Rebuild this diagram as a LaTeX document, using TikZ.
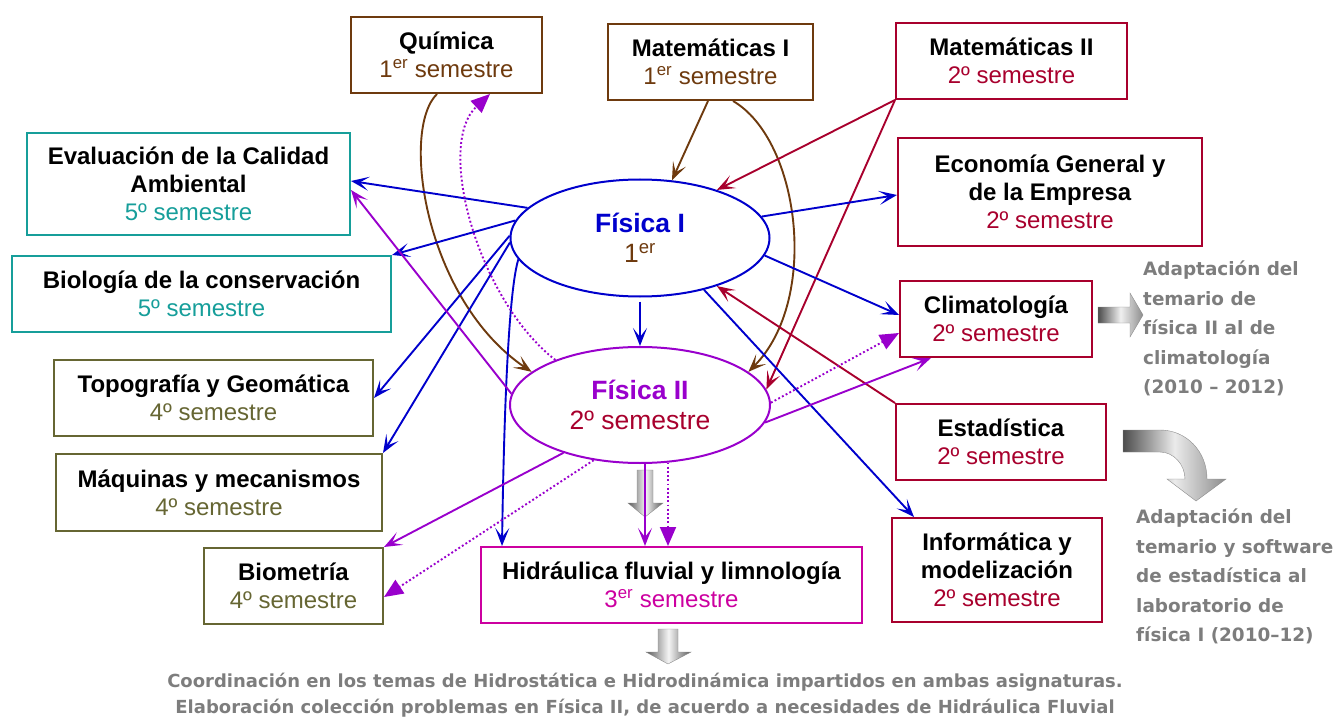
\documentclass[tikz,border=0pt]{standalone}
\usepackage{fontspec}
\setmainfont{Liberation Sans}
\newfontfamily\grayfont{DejaVu Sans}
\usetikzlibrary{arrows.meta,calc,shapes.geometric}
\definecolor{cbrown}{RGB}{110,58,14}
\definecolor{ccrim}{RGB}{168,0,45}
\definecolor{cblue}{RGB}{0,0,204}
\definecolor{cpurp}{RGB}{153,0,204}
\definecolor{cteal}{RGB}{22,158,154}
\definecolor{colive}{RGB}{102,102,51}
\definecolor{cmag}{RGB}{204,0,160}
\definecolor{cgray}{RGB}{125,125,125}
\begin{document}
\begin{tikzpicture}[x=1pt,y=-1pt,
  box/.style={draw, line width=2pt, inner sep=0pt, align=center, font=\fontsize{24}{28}\selectfont},
  ell/.style={ellipse, draw, line width=2pt, inner sep=0pt, align=center, font=\fontsize{26.5}{30}\selectfont},
  conn/.style={line width=1.9pt, -{Stealth[length=18pt,width=14pt,inset=9pt]}},
  dotc/.style={line width=1.9pt, dash pattern=on 1.9pt off 2.3pt, -{Triangle[length=19pt,width=16pt]}},
  gtext/.style={inner sep=0pt, text=cgray, align=left, font=\grayfont\bfseries\fontsize{18.4}{29.5}\selectfont},
  blockarrow/.style={draw=black!45, line width=0.4pt}
]
\useasboundingbox (0,0) rectangle (1336,722);

% boxes
\node[box, draw=cbrown, minimum width=191pt, minimum height=76pt] (qui) at (446.5,55) {\textbf{Química}\\\textcolor{cbrown}{1\textsuperscript{er} semestre}};
\node[box, draw=cbrown, minimum width=205pt, minimum height=76pt] (m1) at (710.5,62) {\textbf{Matemáticas I}\\\textcolor{cbrown}{1\textsuperscript{er} semestre}};
\node[box, draw=ccrim, minimum width=231pt, minimum height=76pt] (m2) at (1011.5,61) {\textbf{Matemáticas II}\\\textcolor{ccrim}{2º semestre}};
\node[box, draw=ccrim, minimum width=304pt, minimum height=108pt] (eco) at (1050,192) {\textbf{Economía General y}\\\textbf{de la Empresa}\\\textcolor{ccrim}{2º semestre}};
\node[box, draw=cteal, minimum width=323pt, minimum height=102pt] (evl) at (188.5,184) {\textbf{Evaluación de la Calidad}\\\textbf{Ambiental}\\\textcolor{cteal}{5º semestre}};
\node[box, draw=cteal, minimum width=379pt, minimum height=76pt] (bio) at (201.5,294) {\textbf{Biología de la conservación}\\\textcolor{cteal}{5º semestre}};
\node[box, draw=colive, minimum width=319pt, minimum height=76pt] (top) at (213.5,398) {\textbf{Topografía y Geomática}\\\textcolor{colive}{4º semestre}};
\node[box, draw=colive, minimum width=326pt, minimum height=77pt] (maq) at (219,492.5) {\textbf{Máquinas y mecanismos}\\\textcolor{colive}{4º semestre}};
\node[box, draw=colive, minimum width=179pt, minimum height=76pt] (bm) at (293.5,586) {\textbf{Biometría}\\\textcolor{colive}{4º semestre}};
\node[box, draw=cmag, minimum width=381pt, minimum height=76pt] (hid) at (671.5,585) {\textbf{Hidráulica fluvial y limnología}\\\textcolor{cmag}{3\textsuperscript{er} semestre}};
\node[box, draw=ccrim, minimum width=192pt, minimum height=76pt] (clim) at (996,319) {\textbf{Climatología}\\\textcolor{ccrim}{2º semestre}};
\node[box, draw=ccrim, minimum width=210pt, minimum height=76pt] (est) at (1001,442) {\textbf{Estadística}\\\textcolor{ccrim}{2º semestre}};
\node[box, draw=ccrim, minimum width=210pt, minimum height=104pt] (inf) at (997,570) {\textbf{Informática y}\\\textbf{modelización}\\\textcolor{ccrim}{2º semestre}};

% ellipses
\node[ell, draw=cblue, minimum width=259pt, minimum height=117pt] (f1) at (640,238) {\textcolor{cblue}{\textbf{Física I}}\\\textcolor{cbrown}{1\textsuperscript{er}}};
\node[ell, draw=cpurp, minimum width=260pt, minimum height=116pt] (f2) at (640,405) {\textcolor{cpurp}{\textbf{Física II}}\\\textcolor{ccrim}{2º semestre}};

% gray block arrows
\shadedraw[blockarrow, left color=black!65, right color=black!65, middle color=black!4] (637,470) -- (653,470) -- (653,503) -- (663,503) -- (645,517) -- (628,503) -- (637,503) -- cycle;
\shadedraw[blockarrow, left color=black!65, right color=black!65, middle color=black!4] (658,629) -- (678,629) -- (678,652) -- (691,652) -- (668,664) -- (646,652) -- (658,652) -- cycle;
\shadedraw[blockarrow, left color=black!70, right color=black!45, middle color=black!6] (1098,307) -- (1130,307) -- (1130,293) -- (1143,315) -- (1130,337) -- (1130,323) -- (1098,323) -- cycle;
\shadedraw[blockarrow, left color=black!70, right color=black!45, middle color=black!8] (1123,430) -- (1160,430) .. controls (1186,430) and (1207,451) .. (1207,479) -- (1226,479) -- (1196,501) -- (1167,479) -- (1185,479) .. controls (1185,465) and (1174,452) .. (1160,452) -- (1123,452) -- cycle;

% brown connectors
\draw[conn, cbrown] ([xshift=-9.5pt]qui.south) .. controls (400,130) and (425,300) .. (f2.163.7);
\draw[conn, cbrown] ([xshift=-2.5pt]m1.south) -- (f1.61);
\draw[conn, cbrown] ([xshift=22.5pt]m1.south) .. controls (800,140) and (820,300) .. (f2.17.6);

% crimson connectors
\draw[conn, ccrim] (m2.south west) -- (f1.32);
\draw[conn, ccrim] (m2.south west) -- (f2.7.3);
\draw[conn, ccrim] (est.north west) -- (f1.328.5);

% blue connectors
\draw[conn, cblue] (f1.165.8) -- ([yshift=3pt]evl.east);
\draw[conn, cblue] (f1.172.7) -- (bio.north east);
\draw[conn, cblue] (f1.179) -- (top.east);
\draw[conn, cblue] (f1.182) -- (maq.north east);
\draw[conn, cblue] (f1.190) .. controls (506,300) and (503,480) .. ([xshift=22pt]hid.north west);
\draw[conn, cblue] ([yshift=-4pt]f1.south) -- (f2.north);
\draw[conn, cblue] (f1.10.7) -- ([yshift=-3pt]eco.west);
\draw[conn, cblue] (f1.352) -- ([yshift=4pt]clim.west);
\draw[conn, cblue] (f1.321.5) -- ([xshift=23pt]inf.north west);

% purple connectors
\draw[conn, cpurp] (f2.175.6) -- ([yshift=-6pt]evl.east);
\draw[conn, cpurp] (f2.212.6) -- (bm.north east);
\draw[dotc, cpurp] (f2.230.4) -- ([yshift=-11pt]bm.east);
\draw[conn, cpurp] ([xshift=5pt]f2.south) -- ([xshift=-26.5pt]hid.north);
\draw[dotc, cpurp] ([xshift=28pt,yshift=1.5pt]f2.south) -- ([xshift=-3.5pt]hid.north);
\draw[dotc, cpurp] (f2.152.9) .. controls (478,300) and (435,145) .. ([xshift=43.5pt]qui.south);
\draw[dotc, cpurp] (f2.1.3) -- ([yshift=-14pt]clim.west);
\draw[conn, cpurp] (f2.352) -- ([xshift=32pt]clim.south west);

% gray texts
\node[gtext, anchor=north west] (g1) at (1143,261) {Adaptación del\\temario de\\física II al de\\climatología\\(2010 – 2012)};
\node[gtext, anchor=north west] (g2) at (1136,509) {Adaptación del\\temario y software\\de estadística al\\laboratorio de\\física I (2010–12)};
\node[gtext, align=center, anchor=north, font=\grayfont\bfseries\fontsize{18}{26}\selectfont] (g3) at (645,673) {Coordinación en los temas de Hidrostática e Hidrodinámica impartidos en ambas asignaturas.\\Elaboración colección problemas en Física II, de acuerdo a necesidades de Hidráulica Fluvial};
\end{tikzpicture}
\end{document}
